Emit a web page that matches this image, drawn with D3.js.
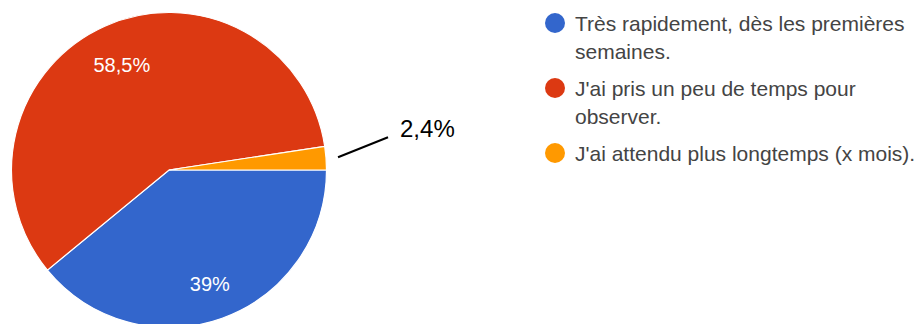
<!DOCTYPE html>
<html>
<head>
<meta charset="utf-8">
<script src="https://cdn.jsdelivr.net/npm/d3@7"></script>
<style>
  html, body { margin: 0; padding: 0; background: #fff; }
  svg { display: block; }
</style>
</head>
<body>
<script>
// Answer shares (percent), in drawing order starting at 3 o'clock, clockwise
const categories = [
  "Très rapidement, dès les premières semaines.",
  "J'ai pris un peu de temps pour observer.",
  "J'ai attendu plus longtemps (x mois)."
];
const legendLines = [
  ["Très rapidement, dès les premières", "semaines."],
  ["J'ai pris un peu de temps pour", "observer."],
  ["J'ai attendu plus longtemps (x mois)."]
];
const values = [39, 58.5, 2.4];
const valueLabels = ["39%", "58,5%", "2,4%"];
const colors = ["#3366cc", "#dc3912", "#ff9900"];

const W = 920, H = 324;
const cx = 169, cy = 170, r = 157.5;

const svg = d3.select("body").append("svg")
  .attr("width", W).attr("height", H);

const pie = d3.pie()
  .value(d => d)
  .sort(null)
  .startAngle(Math.PI / 2)
  .endAngle(Math.PI / 2 + 2 * Math.PI);

const arcs = pie(values);
const arc = d3.arc().innerRadius(0).outerRadius(r);
const labelArc = d3.arc().innerRadius(r * 0.75).outerRadius(r * 0.75);

const g = svg.append("g").attr("transform", `translate(${cx},${cy})`);

g.selectAll("path.slice")
  .data(arcs)
  .join("path")
  .attr("class", "slice")
  .attr("d", arc)
  .attr("fill", (d, i) => colors[i])
  .attr("stroke", "#fff")
  .attr("stroke-width", 1.2);

// Inside labels for the two large slices
g.selectAll("text.inlabel")
  .data(arcs.filter(d => d.value > 10))
  .join("text")
  .attr("class", "inlabel")
  .attr("transform", d => {
    const [x, y] = labelArc.centroid(d);
    return `translate(${x + 1},${y + 3})`;
  })
  .attr("text-anchor", "middle")
  .attr("dominant-baseline", "central")
  .attr("font-family", "Arial, 'Liberation Sans', sans-serif")
  .attr("font-size", 20)
  .attr("fill", "#fff")
  .text(d => valueLabels[d.index]);

// Callout for the small slice
const small = arcs[2];
const mid = (small.startAngle + small.endAngle) / 2;
const p0 = [Math.sin(mid) * (r + 12), -Math.cos(mid) * (r + 12)];
const p1 = [p0[0] + 50, p0[1] - 20];
g.append("line")
  .attr("x1", p0[0]).attr("y1", p0[1])
  .attr("x2", p1[0]).attr("y2", p1[1])
  .attr("stroke", "#000").attr("stroke-width", 2);
g.append("text")
  .attr("x", p1[0] + 12).attr("y", p1[1])
  .attr("font-family", "Arial, 'Liberation Sans', sans-serif")
  .attr("font-size", 24)
  .attr("fill", "#000")
  .text(valueLabels[2]);

// Legend
const legend = svg.append("g").attr("transform", "translate(555,23)");
const rowStep = 65, lineStep = 28;
const rows = legend.selectAll("g.row")
  .data(categories)
  .join("g")
  .attr("class", "row")
  .attr("transform", (d, i) => `translate(0,${i * rowStep})`);
rows.append("circle")
  .attr("r", 10)
  .attr("fill", (d, i) => colors[i]);
rows.append("text")
  .attr("x", 20)
  .attr("font-family", "Arial, 'Liberation Sans', sans-serif")
  .attr("font-size", 21)
  .attr("fill", "#444")
  .selectAll("tspan")
  .data((d, i) => legendLines[i])
  .join("tspan")
  .attr("x", 20)
  .attr("y", (d, j) => j * lineStep + 7.5)
  .text(d => d);
</script>
</body>
</html>
